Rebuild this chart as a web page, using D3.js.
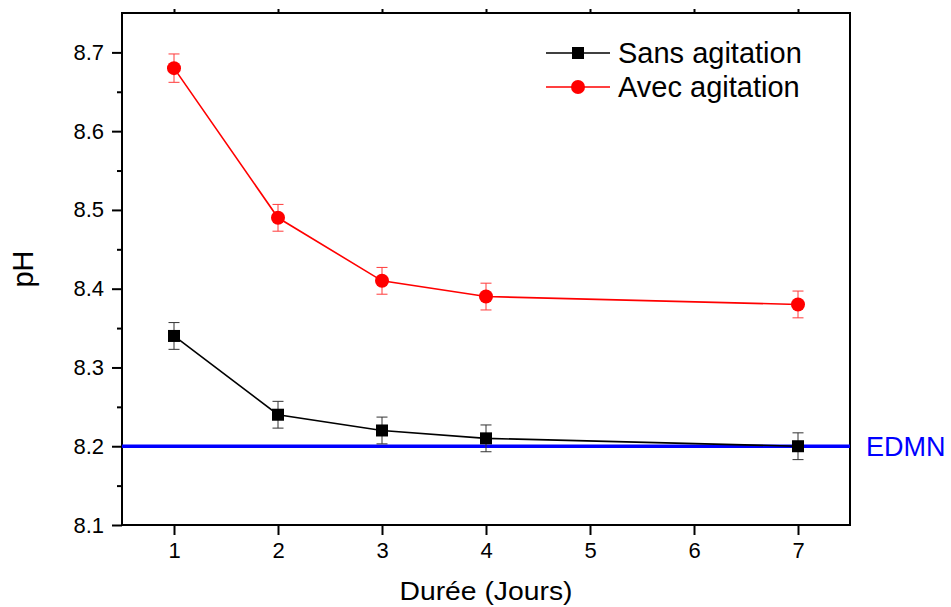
<!DOCTYPE html>
<html><head><meta charset="utf-8">
<script src="https://cdn.jsdelivr.net/npm/d3@7"></script>
<style>body{margin:0;background:#fff;}text{font-family:"Liberation Sans",Arial,sans-serif;}</style>
</head><body>
<svg id="c" width="951" height="607"></svg>
<script>
const days = [1, 2, 3, 4, 7];
const sansAgitation = [8.34, 8.24, 8.22, 8.21, 8.20];
const avecAgitation = [8.68, 8.49, 8.41, 8.39, 8.38];
const errSans = [0.017, 0.017, 0.017, 0.017, 0.017];
const errAvec = [0.018, 0.017, 0.017, 0.017, 0.017];
const xTicks = [1, 2, 3, 4, 5, 6, 7];
const yTicks = [8.1, 8.2, 8.3, 8.4, 8.5, 8.6, 8.7];
const yMinor = [8.15, 8.25, 8.35, 8.45, 8.55, 8.65];
const edmn = 8.2;
const seriesNames = ["Sans agitation", "Avec agitation"];

const svg = d3.select("#c");
const L = 122, R = 850, T = 13, B = 525;
const x = d3.scaleLinear().domain([0.5, 7.5]).range([L, R]);
const y = d3.scaleLinear().domain([8.1, 8.75]).range([B, T]);

// frame
svg.append("rect").attr("x", L).attr("y", T).attr("width", R - L).attr("height", B - T)
  .attr("fill", "none").attr("stroke", "#000").attr("stroke-width", 2);

// axes
const yAxis = d3.axisLeft(y).tickValues(yTicks).tickFormat(d3.format(".1f")).tickSize(10).tickPadding(8);
svg.append("g").attr("transform", `translate(${L},0)`).call(yAxis);
const yAxisMinor = d3.axisLeft(y).tickValues(yMinor).tickFormat("").tickSize(5);
svg.append("g").attr("transform", `translate(${L},0)`).call(yAxisMinor);
const xAxis = d3.axisBottom(x).tickValues(xTicks).tickFormat(d3.format("d")).tickSize(10).tickPadding(7);
svg.append("g").attr("transform", `translate(0,${B})`).call(xAxis);
const xTop = d3.axisTop(x).tickValues(xTicks).tickFormat("").tickSize(4);
svg.append("g").attr("transform", `translate(0,${T})`).call(xTop);
svg.selectAll(".domain").remove();
svg.selectAll(".tick line").attr("stroke", "#000").attr("stroke-width", 2);
svg.selectAll(".tick text").attr("font-size", 22).attr("fill", "#000").attr("font-family", "Liberation Sans, Arial, sans-serif");

// EDMN line
svg.append("line").attr("x1", L).attr("x2", R).attr("y1", y(edmn)).attr("y2", y(edmn))
  .attr("stroke", "#0000ff").attr("stroke-width", 3.5);
svg.append("text").attr("x", 866).attr("y", y(edmn) + 9.5).attr("fill", "#0000ff")
  .attr("font-size", 27).text("EDMN");

function drawSeries(vals, errs, color, marker) {
  const data = days.map((d, i) => ({ d, v: vals[i], e: errs[i] }));
  const g = svg.append("g");
  g.append("path").datum(data)
    .attr("d", d3.line().x(p => x(p.d)).y(p => y(p.v)))
    .attr("fill", "none").attr("stroke", color).attr("stroke-width", 1.6);
  const eb = g.selectAll(".eb").data(data).enter().append("g");
  const ec = color === "red" ? "#ff3b3b" : "#333";
  eb.append("line").attr("x1", p => x(p.d)).attr("x2", p => x(p.d))
    .attr("y1", p => y(p.v + p.e)).attr("y2", p => y(p.v - p.e)).attr("stroke", ec).attr("stroke-width", 1);
  eb.append("line").attr("x1", p => x(p.d) - 5.5).attr("x2", p => x(p.d) + 5.5)
    .attr("y1", p => y(p.v + p.e)).attr("y2", p => y(p.v + p.e)).attr("stroke", ec).attr("stroke-width", 1);
  eb.append("line").attr("x1", p => x(p.d) - 5.5).attr("x2", p => x(p.d) + 5.5)
    .attr("y1", p => y(p.v - p.e)).attr("y2", p => y(p.v - p.e)).attr("stroke", ec).attr("stroke-width", 1);
  if (marker === "square") {
    g.selectAll(".m").data(data).enter().append("rect")
      .attr("x", p => x(p.d) - 6).attr("y", p => y(p.v) - 6).attr("width", 12).attr("height", 12).attr("fill", color);
  } else {
    g.selectAll(".m").data(data).enter().append("circle")
      .attr("cx", p => x(p.d)).attr("cy", p => y(p.v)).attr("r", 7).attr("fill", color);
  }
}
drawSeries(sansAgitation, errSans, "#000", "square");
drawSeries(avecAgitation, errAvec, "red", "circle");

// legend
const leg = [{ n: seriesNames[0], c: "#000", m: "square", yy: 53 }, { n: seriesNames[1], c: "red", m: "circle", yy: 87 }];
leg.forEach(l => {
  svg.append("line").attr("x1", 546).attr("x2", 610).attr("y1", l.yy).attr("y2", l.yy).attr("stroke", l.c).attr("stroke-width", 1.6);
  if (l.m === "square") svg.append("rect").attr("x", 572).attr("y", l.yy - 6).attr("width", 12).attr("height", 12).attr("fill", l.c);
  else svg.append("circle").attr("cx", 578).attr("cy", l.yy).attr("r", 7).attr("fill", l.c);
  svg.append("text").attr("x", 618).attr("y", l.yy + 10).attr("font-size", 29).attr("fill", "#000").text(l.n);
});

// axis titles
svg.append("text").attr("transform", `translate(33,269) rotate(-90)`).attr("text-anchor", "middle")
  .attr("font-size", 29).text("pH");
svg.append("text").attr("x", 486).attr("y", 600).attr("text-anchor", "middle")
  .attr("font-size", 26).attr("textLength", 173).attr("lengthAdjust", "spacingAndGlyphs").text("Durée (Jours)");
</script>
</body></html>
